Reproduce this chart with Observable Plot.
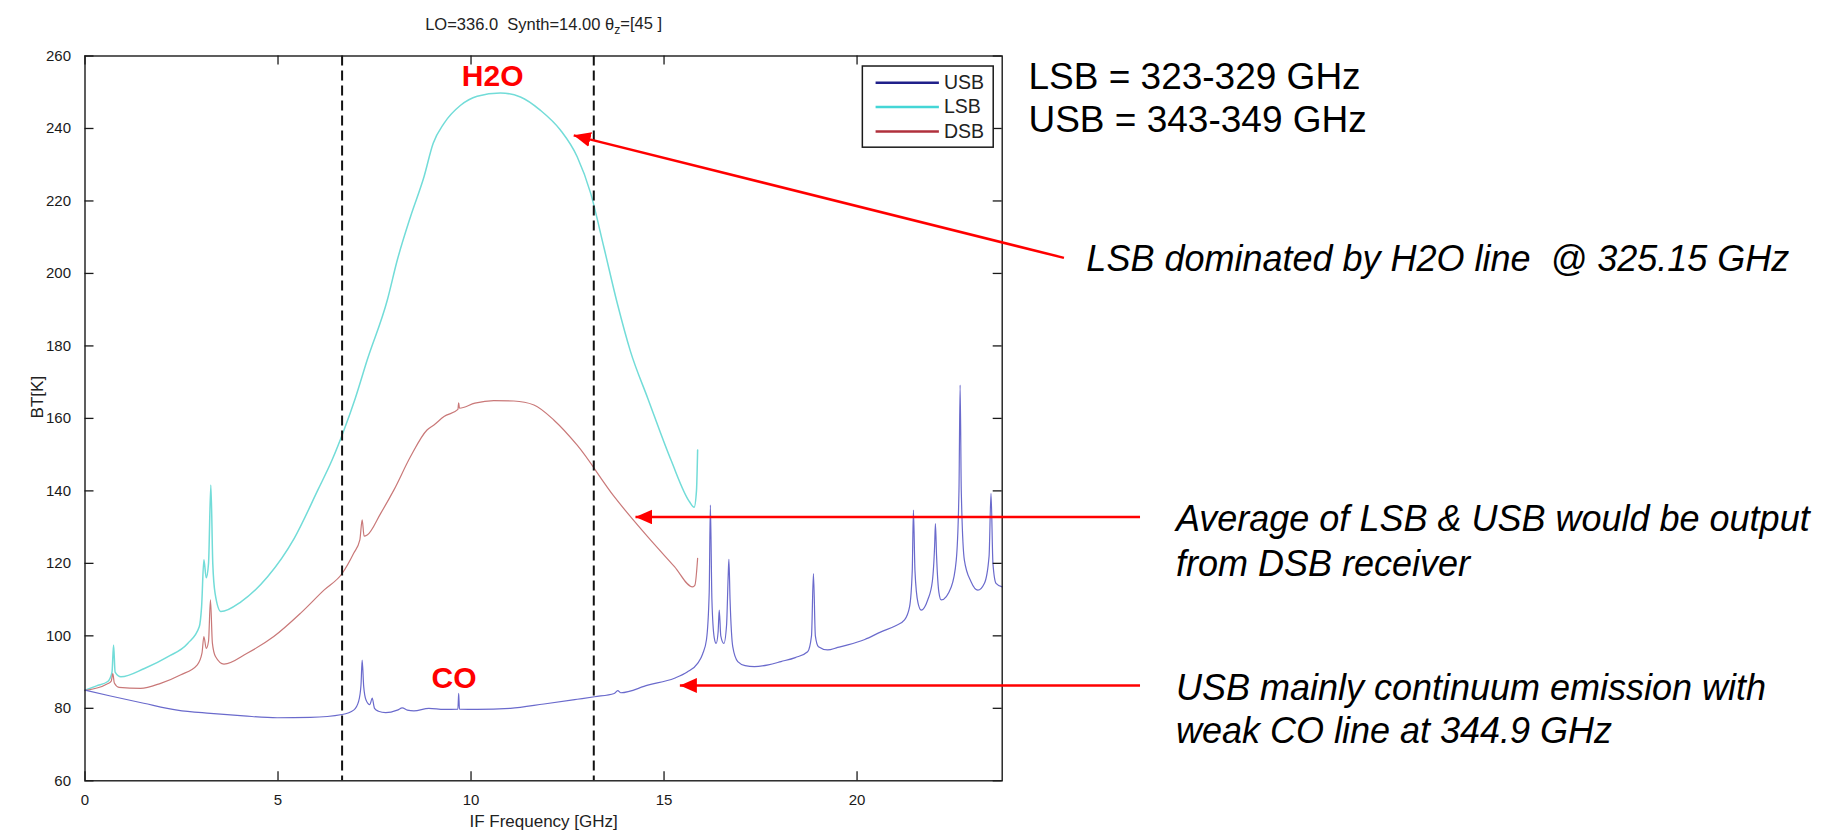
<!DOCTYPE html>
<html>
<head>
<meta charset="utf-8">
<script src="https://cdn.jsdelivr.net/npm/d3@7"></script>
<script src="https://cdn.jsdelivr.net/npm/@observablehq/plot@0.6"></script>
<style>
  html, body { margin: 0; padding: 0; background: #fff; }
  svg text { white-space: pre; }
</style>
</head>
<body>
<div id="chart"></div>
<script>
// ---------- data ----------
const usb = [[0.00,85.0],[0.66,83.4],[1.52,81.4],[2.39,79.5],[3.25,78.6],[4.11,77.9],[4.98,77.4],[5.84,77.5],[6.66,78.3],[6.96,79.5],[7.09,82.0],[7.15,86.5],[7.18,93.3],[7.22,86.0],[7.28,82.3],[7.38,81.0],[7.44,82.8],[7.50,80.0],[7.60,79.2],[7.79,78.8],[8.09,79.5],[8.22,80.1],[8.35,79.5],[8.52,79.3],[8.91,80.0],[9.30,79.7],[9.66,79.8],[9.68,84.1],[9.70,79.8],[10.16,79.7],[11.02,80.0],[11.89,81.2],[12.75,82.5],[13.20,83.2],[13.71,84.1],[13.80,84.9],[13.88,84.3],[14.58,86.4],[15.27,88.3],[15.60,90.0],[15.87,92.4],[16.00,95.0],[16.10,99.0],[16.17,112],[16.20,136.1],[16.24,110],[16.30,99.5],[16.35,97.9],[16.40,101],[16.43,107.1],[16.47,100],[16.55,97.9],[16.62,103],[16.66,116],[16.68,121.1],[16.71,110],[16.78,97],[16.91,92.9],[17.10,91.8],[17.34,91.5],[17.70,92.0],[18.03,92.9],[18.40,94.0],[18.72,95.6],[18.82,100],[18.87,117.2],[18.92,100],[19.00,97.0],[19.24,96.1],[19.50,96.8],[19.76,97.5],[20.20,99.0],[20.62,101.1],[21.00,102.8],[21.23,104.4],[21.36,108],[21.43,118],[21.46,134.7],[21.50,118],[21.58,109],[21.66,107.1],[21.83,109.9],[21.95,115],[22.01,125],[22.03,131.0],[22.06,122],[22.12,112],[22.18,109.9],[22.44,113.5],[22.57,120.9],[22.64,140],[22.67,169.2],[22.70,140],[22.78,120.9],[22.95,115],[23.13,112.6],[23.30,114.5],[23.42,122],[23.47,139.3],[23.52,120],[23.60,114.5],[23.76,113.5]];

const lsb = [[0.00,85.0],[0.30,86.2],[0.59,87.4],[0.70,90],[0.74,97.5],[0.78,90],[0.93,88.7],[1.54,91.0],[2.14,94.2],[2.66,97.9],[2.96,102.5],[3.02,108],[3.08,121],[3.14,116],[3.20,120],[3.26,141.6],[3.31,120],[3.37,111.7],[3.52,106.7],[4.04,109.4],[4.73,116.3],[5.42,126.9],[6.03,140.2],[6.40,148.5],[6.71,156.8],[7.00,165.5],[7.31,176.1],[7.83,192.6],[8.09,203.7],[8.43,215.6],[8.78,226.6],[9.02,235.9],[9.30,241.4],[9.73,246.4],[10.16,248.9],[10.76,249.8],[11.28,248.7],[11.80,245.0],[12.32,239.5],[12.75,232.2],[13.10,222.1],[13.44,207.3],[13.79,191.7],[14.13,178.5],[14.58,165.5],[15.18,148.5],[15.66,137.0],[15.78,135.5],[15.84,140],[15.87,151.3]];

const dsb = [[0.00,84.9],[0.57,86.7],[0.68,87.5],[0.72,89.6],[0.76,87.0],[0.88,85.8],[1.44,85.5],[1.96,86.9],[2.47,89.2],[2.91,92.0],[3.03,95.2],[3.08,99.8],[3.14,96.5],[3.20,98.5],[3.25,109.9],[3.30,98.0],[3.38,94.3],[3.60,92.2],[4.20,95.2],[4.89,99.8],[5.58,106.2],[6.19,112.6],[6.66,117.2],[6.96,122.8],[7.12,126.5],[7.18,132.0],[7.23,127.5],[7.31,127.8],[7.66,133.8],[8.00,140.2],[8.43,149.4],[8.86,156.8],[9.04,158.2],[9.30,160.5],[9.66,162.5],[9.68,164.3],[9.70,162.8],[10.10,164.2],[10.59,164.9],[11.11,164.8],[11.63,163.7],[12.15,159.5],[12.75,152.6],[13.71,138.4],[14.58,127.3],[15.27,119.1],[15.74,113.5],[15.80,114.0],[15.87,121.4]];

const dashX = [6.66, 13.18];
const xTicks = [0, 5, 10, 15, 20];
const yTicks = [60, 80, 100, 120, 140, 160, 180, 200, 220, 240, 260];
const legendNames = ["USB", "LSB", "DSB"];
const titleParts = ["LO=336.0  Synth=14.00 \u03B8", "z", "=[45 ]"];
const xLabel = "IF Frequency [GHz]";
const yLabel = "BT[K]";
const lineLabels = ["H2O", "CO"];
const rangeNotes = ["LSB = 323-329 GHz", "USB = 343-349 GHz"];
const notes = [
  "LSB dominated by H2O line \u00A0@ 325.15 GHz",
  "Average of LSB & USB would be output",
  "from DSB receiver",
  "USB mainly continuum emission with",
  "weak CO line at 344.9 GHz"
];

// ---------- layout & style ----------
const W = 1848, H = 835;
const ML = 84.5, MR = 846.3, MT = 55.5, MB = 54.7;
const FW = W - ML - MR, FH = H - MT - MB;
const FONT = "'Liberation Sans', Arial, Helvetica, sans-serif";
const colors = {USB: "#6a6acc", LSB: "#72dcd8", DSB: "#c97878"};
const legendColors = {USB: "#20208a", LSB: "#44d6d6", DSB: "#b0303c"};

const toRows = (pts) => pts.map(([x, y]) => ({x, y}));

const legendRows = legendNames.map((n, i) => ({n, y: 252.6 - i * 6.7}));
const lineLabelRows = [
  {t: lineLabels[0], x: 10.56, y: 251.7},
  {t: lineLabels[1], x: 9.56, y: 85.7}
];
const rangeRows = rangeNotes.map((t, i) => ({t, x: 24.44, y: 250.95 - i * 11.98}));
const noteRows = [
  {t: notes[0], x: 25.94, y: 200.6},
  {t: notes[1], x: 28.26, y: 128.8},
  {t: notes[2], x: 28.26, y: 116.6},
  {t: notes[3], x: 28.26, y: 82.4},
  {t: notes[4], x: 28.26, y: 70.4}
];
const arrows = [
  {x1: 25.36, y1: 204.3, x2: 12.66, y2: 238.1},
  {x1: 27.33, y1: 132.8, x2: 14.26, y2: 132.8},
  {x1: 27.33, y1: 86.3, x2: 15.41, y2: 86.3}
];

function arrowHead(color) {
  const m = d3.create("svg:marker")
    .attr("viewBox", "-17 -7.5 17 15")
    .attr("markerWidth", 17).attr("markerHeight", 15)
    .attr("markerUnits", "userSpaceOnUse")
    .attr("refX", 0).attr("refY", 0)
    .attr("orient", "auto");
  m.append("path").attr("d", "M0,0L-17,-7.5L-17,7.5Z").attr("fill", color).attr("stroke", "none");
  return m.node();
}

function build(markerEnd) {
  return Plot.plot({
    width: W, height: H,
    marginLeft: ML, marginRight: MR, marginTop: MT, marginBottom: MB,
    style: {fontFamily: FONT, fontSize: "15px", color: "#1a1a1a", background: "#fff", overflow: "visible"},
    x: {domain: [0, 23.76]},
    y: {domain: [60, 260]},
    marks: [
      Plot.line(toRows(lsb), {x: "x", y: "y", stroke: colors.LSB, strokeWidth: 1.5, curve: "monotone-x"}),
      Plot.line(toRows(dsb), {x: "x", y: "y", stroke: colors.DSB, strokeWidth: 1.2, curve: "monotone-x"}),
      Plot.line(toRows(usb), {x: "x", y: "y", stroke: colors.USB, strokeWidth: 1.2, curve: "monotone-x"}),
      Plot.ruleX(dashX, {x: d => d, stroke: "#111", strokeWidth: 2, strokeDasharray: "10,5"}),
      Plot.frame({stroke: "#1a1a1a", strokeWidth: 1.4}),
      Plot.tickY(yTicks, {y: d => d, insetRight: FW - 9, stroke: "#1a1a1a", strokeWidth: 1.3}),
      Plot.tickY(yTicks, {y: d => d, insetLeft: FW - 9, stroke: "#1a1a1a", strokeWidth: 1.3}),
      Plot.tickX(xTicks, {x: d => d, insetTop: FH - 9, stroke: "#1a1a1a", strokeWidth: 1.3}),
      Plot.tickX(xTicks, {x: d => d, insetBottom: FH - 9, stroke: "#1a1a1a", strokeWidth: 1.3}),
      Plot.axisX({ticks: xTicks, tickSize: 0, tickPadding: 14, fontSize: 15, label: null}),
      Plot.axisY({ticks: yTicks, tickSize: 0, tickPadding: 14, fontSize: 15, label: null}),
      // legend
      Plot.rect([0], {x1: 20.15, x2: 23.54, y1: 234.7, y2: 257.1, fill: "#fff", stroke: "#1a1a1a", strokeWidth: 1.5}),
      Plot.link(legendRows, {x1: 20.48, x2: 22.12, y1: "y", y2: "y", stroke: d => legendColors[d.n], strokeWidth: 2.5}),
      Plot.text(legendRows, {x: 22.25, y: "y", text: "n", textAnchor: "start", lineAnchor: "middle", fontSize: 19.5, fill: "#222"}),
      // titles
      Plot.text([titleParts.join("")], {frameAnchor: "top", dy: -26, text: d => d, lineAnchor: "bottom", fontSize: 16.5, fill: "#222"}),
      Plot.text([xLabel], {frameAnchor: "bottom", dy: 46, text: d => d, lineAnchor: "bottom", fontSize: 17, fill: "#222"}),
      Plot.text([yLabel], {frameAnchor: "left", dx: -47, text: d => d, rotate: -90, lineAnchor: "middle", fontSize: 17, fill: "#222"}),
      // red line labels
      Plot.text(lineLabelRows, {x: "x", y: "y", text: "t", textAnchor: "middle", lineAnchor: "bottom", fontSize: 30, fontWeight: "bold", fill: "#ff0000"}),
      // right-hand notes
      Plot.text(rangeRows, {x: "x", y: "y", text: "t", textAnchor: "start", lineAnchor: "bottom", fontSize: 37, fill: "#000"}),
      Plot.text(noteRows, {x: "x", y: "y", text: "t", textAnchor: "start", lineAnchor: "bottom", fontSize: 36, fontStyle: "italic", fill: "#000"}),
      Plot.link(arrows, {x1: "x1", y1: "y1", x2: "x2", y2: "y2", stroke: "#ff0000", strokeWidth: 2.5, markerEnd})
    ]
  });
}

let svg;
try { svg = build(arrowHead); } catch (e) { svg = build("arrow"); }

// subscript z in the title
d3.select(svg).selectAll("text")
  .filter(function () { return this.textContent === titleParts.join(""); })
  .each(function () {
    const el = d3.select(this);
    el.text(null);
    el.append("tspan").text(titleParts[0]);
    el.append("tspan").attr("dy", "0.35em").attr("font-size", "0.75em").text(titleParts[1]);
    el.append("tspan").attr("dy", "-0.35em").text(titleParts[2]);
  });

document.getElementById("chart").appendChild(svg);
</script>
</body>
</html>
